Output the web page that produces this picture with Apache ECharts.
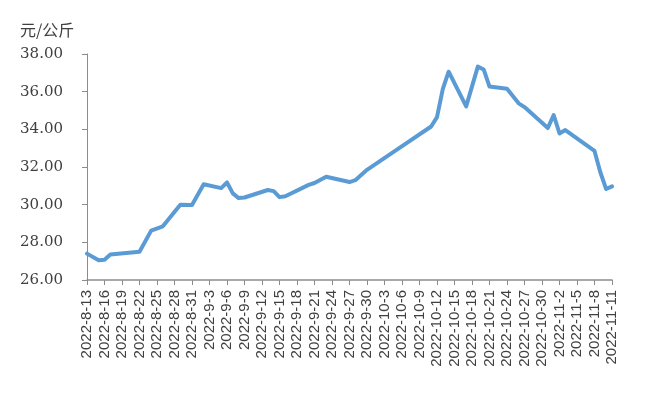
<!DOCTYPE html>
<html>
<head>
<meta charset="utf-8">
<script src="https://cdn.jsdelivr.net/npm/echarts@6/dist/echarts.min.js"></script>
<style>
html,body{margin:0;padding:0;background:#fff;}
#chart{width:652px;height:393px;}
</style>
</head>
<body>
<div id="chart"></div>
<script>
// Categories: daily dates from 2022-8-13 to 2022-11-11
const startDate = [2022, 8, 13];
const dayCount = 91;
const unitLabel = '元/公斤';
const yTicks = [26, 28, 30, 32, 34, 36, 38];

// Observed values: [day index from 2022-8-13, price]
const pointDays = [0, 2, 3, 4, 9, 11, 13, 16, 18, 20, 23, 24, 25, 26, 27, 31, 32, 33, 34, 38, 39, 41, 45, 46, 48, 53, 59, 60, 61, 62, 65, 67, 68, 69, 72, 74, 75, 79, 80, 81, 82, 87, 88, 89, 90];
const pointValues = [27.40, 27.05, 27.08, 27.35, 27.50, 28.62, 28.85, 30.00, 29.98, 31.08, 30.88, 31.18, 30.60, 30.35, 30.38, 30.78, 30.72, 30.40, 30.45, 31.05, 31.15, 31.48, 31.20, 31.30, 31.85, 32.90, 34.15, 34.65, 36.15, 37.06, 35.22, 37.33, 37.18, 36.27, 36.15, 35.38, 35.18, 34.07, 34.76, 33.78, 33.96, 32.85, 31.72, 30.83, 30.97];

const categories = [];
for (let i = 0; i < dayCount; i++) {
  const d = new Date(startDate[0], startDate[1] - 1, startDate[2] + i);
  categories.push(d.getFullYear() + '-' + (d.getMonth() + 1) + '-' + d.getDate());
}
const seriesData = categories.map(() => null);
pointDays.forEach((day, k) => { seriesData[day] = pointValues[k]; });

const chart = echarts.init(document.getElementById('chart'), null, {renderer: 'canvas'});
chart.setOption({
  animation: false,
  backgroundColor: '#ffffff',
  grid: {left: 87, right: 40, top: 54, bottom: 113, containLabel: false},
  graphic: [{
    type: 'text', left: 20, top: 22,
    style: {text: unitLabel, font: '16px "Noto Sans CJK SC"', fill: '#404040'}
  }],
  xAxis: {
    type: 'category',
    data: categories,
    boundaryGap: false,
    axisLine: {lineStyle: {color: '#8c8c8c', width: 1.5}},
    axisTick: {show: true, interval: 2, length: 5, lineStyle: {color: '#8c8c8c'}},
    axisLabel: {
      interval: 2, rotate: 90, margin: 10,
      fontFamily: 'Liberation Sans', fontSize: 15, color: '#404040'
    },
    splitLine: {show: false}
  },
  yAxis: {
    type: 'value',
    min: yTicks[0], max: yTicks[yTicks.length - 1], interval: 2,
    axisLine: {show: true, lineStyle: {color: '#8c8c8c', width: 1}},
    axisTick: {show: true, length: 5, lineStyle: {color: '#8c8c8c'}},
    axisLabel: {
      margin: 24,
      formatter: v => v.toFixed(2),
      fontFamily: 'DejaVu Serif', fontSize: 15, color: '#404040'
    },
    splitLine: {show: false}
  },
  series: [{
    type: 'line',
    data: seriesData,
    connectNulls: true,
    showSymbol: false,
    symbol: 'none',
    smooth: false,
    lineStyle: {color: '#5b9bd5', width: 4, cap: 'round', join: 'round'}
  }]
});
</script>
</body>
</html>
